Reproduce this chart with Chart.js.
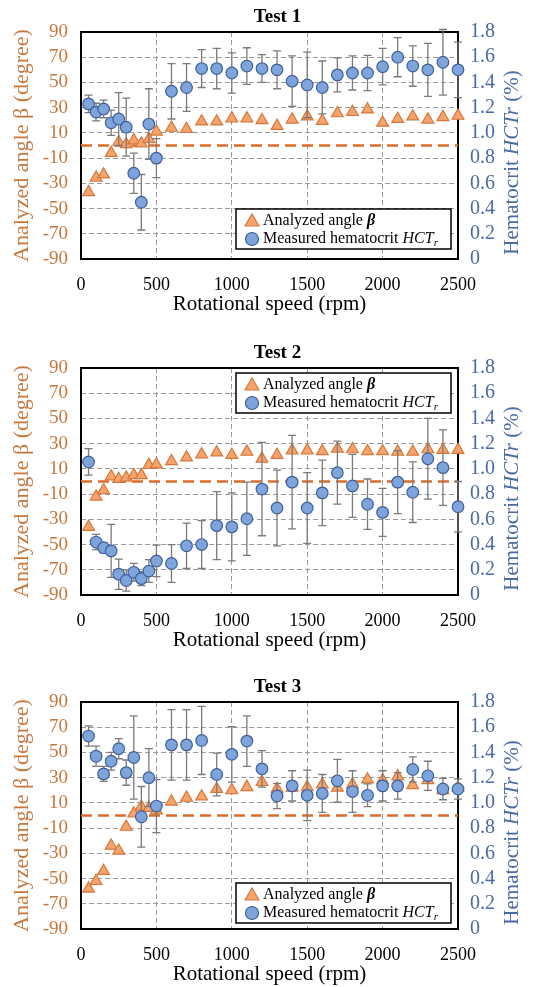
<!DOCTYPE html>
<html lang="en">
<head>
<meta charset="UTF-8">
<title>Analyzed angle and hematocrit vs rotational speed</title>
<script src="https://cdn.jsdelivr.net/npm/chart.js@4.4.1/dist/chart.umd.min.js"></script>
<style>
  html, body { margin: 0; padding: 0; background: #fff; }
  #wrap { position: relative; width: 555px; height: 987px; }
  .panel { position: absolute; left: 0; width: 555px; height: 317px; }
</style>
</head>
<body>
<div id="wrap">
  <div class="panel" style="top:0px"><canvas id="test1" width="555" height="317"></canvas></div>
  <div class="panel" style="top:336px"><canvas id="test2" width="555" height="317"></canvas></div>
  <div class="panel" style="top:670px"><canvas id="test3" width="555" height="317"></canvas></div>
</div>

<script>
// ---- data ----
const titles = ['Test 1', 'Test 2', 'Test 3'];

const speeds = [50, 100, 150, 200, 250, 300, 350, 400, 450, 500,
                600, 700, 800, 900, 1000, 1100, 1200, 1300, 1400, 1500,
                1600, 1700, 1800, 1900, 2000, 2100, 2200, 2300, 2400, 2500];

// analyzed angle beta (degree)
const angle1 = [-37, -25.5, -23, -6, 2.5, 1, 4, 1.5, 5, 11,
                14, 13, 19, 19, 21.5, 21.5, 20, 15.5, 20.5, 23,
                19.5, 25.5, 26.5, 28.5, 18, 21, 23, 20.5, 22.5, 23.5];
const angle2 = [-36, -12, -7, 4, 2, 3, 5, 5, 13, 13.5,
                16, 19, 21.5, 23, 21, 23.5, 18, 21, 24.5, 24.5,
                24, 26, 25.5, 24, 24, 23.5, 23.5, 25.5, 25, 25];
const angle3 = [-58, -52, -44, -24, -28, -9, 1.5, 7, 6, 4,
                11, 14, 15, 21, 20, 22.5, 26.5, 21, 22, 22.5,
                24.5, 22, 24.5, 28.5, 28, 31, 24, 28, 20, 22];

// measured hematocrit HCTr (%)
const hct1 = [1.23, 1.165, 1.19, 1.08, 1.11, 1.045, 0.68, 0.45, 1.07, 0.80,
              1.33, 1.36, 1.51, 1.51, 1.475, 1.53, 1.51, 1.50, 1.41, 1.38,
              1.36, 1.46, 1.475, 1.475, 1.525, 1.60, 1.53, 1.50, 1.56, 1.50];
const hct2 = [1.055, 0.42, 0.375, 0.35, 0.165, 0.115, 0.18, 0.13, 0.19, 0.27,
              0.25, 0.39, 0.40, 0.55, 0.54, 0.605, 0.84, 0.69, 0.895, 0.69,
              0.81, 0.97, 0.865, 0.72, 0.655, 0.895, 0.815, 1.08, 1.01, 0.70];
const hct3 = [1.53, 1.37, 1.23, 1.33, 1.43, 1.24, 1.36, 0.89, 1.20, 0.975,
              1.46, 1.46, 1.495, 1.225, 1.385, 1.49, 1.27, 1.055, 1.135, 1.06,
              1.075, 1.175, 1.09, 1.06, 1.135, 1.135, 1.265, 1.215, 1.11, 1.11];

// error bar half widths for HCTr
const hctErr1 = [0.07, 0.07, 0.07, 0.10, 0.21, 0.23, 0.16, 0.22, 0.28, 0.155,
                 0.22, 0.19, 0.15, 0.16, 0.16, 0.145, 0.11, 0.15, 0.20, 0.26,
                 0.21, 0.135, 0.135, 0.14, 0.145, 0.155, 0.16, 0.21, 0.26, 0.22];
const hctErr2 = [0.105, 0.06, 0.04, 0.21, 0.12, 0.085, 0.07, 0.055, 0.09, 0.125,
                 0.15, 0.18, 0.19, 0.27, 0.27, 0.29, 0.37, 0.30, 0.37, 0.28,
                 0.26, 0.25, 0.25, 0.20, 0.19, 0.25, 0.24, 0.32, 0.30, 0.20];
const hctErr3 = [0.08, 0.08, 0.06, 0.07, 0.08, 0.10, 0.33, 0.24, 0.23, 0.21,
                 0.28, 0.28, 0.27, 0.17, 0.22, 0.20, 0.145, 0.10, 0.12, 0.20,
                 0.15, 0.17, 0.165, 0.09, 0.12, 0.105, 0.10, 0.115, 0.085, 0.08];

// dashed reference line at beta = 0
const zeroX = [0, 2500];
const zeroY = [0, 0];

// tick labels
const speedTicks = [0, 500, 1000, 1500, 2000, 2500];
const angleTicks = [-90, -70, -50, -30, -10, 10, 30, 50, 70, 90];
const hctTicks = [0, 0.2, 0.4, 0.6, 0.8, 1.0, 1.2, 1.4, 1.6, 1.8];

// ---- styles ----
const SERIF = "'Liberation Serif', 'Times New Roman', serif";
const ORANGE_TXT = '#c8773c';
const BLUE_TXT = '#4a6aa5';
const TRI_FILL = '#f5a46c';
const TRI_EDGE = '#d7763a';
const DOT_FILL = '#7ea4dc';
const DOT_EDGE = '#3f5f99';
const ZERO_LINE = '#dc6e2c';
const GRID = '#9a9a9a';

function drawRuns(ctx, runs, x, y) {
    let cx = x;
    runs.forEach(r => {
        ctx.font = r.font;
        ctx.fillText(r.text, cx, y + (r.dy || 0));
        cx += ctx.measureText(r.text).width;
    });
    return cx;
}

function runsWidth(ctx, runs) {
    let w = 0;
    runs.forEach(r => { ctx.font = r.font; w += ctx.measureText(r.text).width; });
    return w;
}

function triangle(ctx, x, y, r) {
    ctx.beginPath();
    ctx.moveTo(x, y - r);
    ctx.lineTo(x + r * 0.866, y + r * 0.5);
    ctx.lineTo(x - r * 0.866, y + r * 0.5);
    ctx.closePath();
}

// frame, error bars, legend and right axis title
const decor = {
    id: 'decor',
    beforeDatasetsDraw(chart) {
        const a = chart.chartArea, ctx = chart.ctx;
        ctx.save();
        ctx.strokeStyle = '#000';
        ctx.lineWidth = 2;
        ctx.strokeRect(a.left, a.top, a.right - a.left, a.bottom - a.top);
        ctx.restore();
    },
    beforeDatasetDraw(chart, args) {
        if (args.index !== 0) return;
        const ds = chart.data.datasets[0];
        const xs = chart.scales.x, ys = chart.scales.yR, ctx = chart.ctx;
        ctx.save();
        ctx.strokeStyle = '#7a7a7a';
        ctx.lineWidth = 1.3;
        ds.data.forEach((p, i) => {
            const e = ds.errors[i];
            const x = xs.getPixelForValue(p.x);
            const y1 = ys.getPixelForValue(p.y + e);
            const y2 = ys.getPixelForValue(p.y - e);
            ctx.beginPath();
            ctx.moveTo(x, y1); ctx.lineTo(x, y2);
            ctx.moveTo(x - 4, y1); ctx.lineTo(x + 4, y1);
            ctx.moveTo(x - 4, y2); ctx.lineTo(x + 4, y2);
            ctx.stroke();
        });
        ctx.restore();
    },
    afterDatasetsDraw(chart, args, opts) {
        const a = chart.chartArea, ctx = chart.ctx;
        ctx.save();

        // legend box
        const w = 215, h = 40;
        const bx = a.right - 7 - w;
        const by = opts.legendAt === 'top' ? a.top + opts.gap : a.bottom - opts.gap - h;
        ctx.fillStyle = '#fff';
        ctx.fillRect(bx, by, w, h);
        ctx.strokeStyle = '#000';
        ctx.lineWidth = 1.5;
        ctx.strokeRect(bx, by, w, h);

        const r1 = by + 12, r2 = by + 30;
        ctx.lineWidth = 1.2;
        triangle(ctx, bx + 16, r1 + 1, 8);
        ctx.fillStyle = TRI_FILL; ctx.strokeStyle = TRI_EDGE;
        ctx.fill(); ctx.stroke();
        ctx.beginPath();
        ctx.arc(bx + 16, r2, 6.5, 0, Math.PI * 2);
        ctx.fillStyle = DOT_FILL; ctx.strokeStyle = DOT_EDGE;
        ctx.fill(); ctx.stroke();

        ctx.fillStyle = '#000';
        ctx.textBaseline = 'middle';
        ctx.textAlign = 'left';
        drawRuns(ctx, [
            {text: 'Analyzed angle ', font: '16px ' + SERIF},
            {text: 'β', font: 'italic bold 16px ' + SERIF}
        ], bx + 27, r1);
        drawRuns(ctx, [
            {text: 'Measured hematocrit ', font: '16px ' + SERIF},
            {text: 'HCT', font: 'italic 16px ' + SERIF},
            {text: 'r', font: 'italic 11px ' + SERIF, dy: 4}
        ], bx + 27, r2);

        // right axis title
        const runs = [
            {text: 'Hematocrit ', font: '21px ' + SERIF},
            {text: 'HCTr', font: 'italic 21px ' + SERIF},
            {text: ' (%)', font: '21px ' + SERIF}
        ];
        const tw = runsWidth(ctx, runs);
        ctx.translate(a.right + 54, (a.top + a.bottom) / 2 + 17);
        ctx.rotate(-Math.PI / 2);
        ctx.fillStyle = BLUE_TXT;
        drawRuns(ctx, runs, -tw / 2, 0);
        ctx.restore();
    }
};

function makeChart(id, title, angle, hct, err, legendAt, gap) {
    const ctx = document.getElementById(id).getContext('2d');
    return new Chart(ctx, {
        type: 'scatter',
        data: {
            datasets: [
                {
                    label: 'Measured hematocrit HCTr',
                    data: speeds.map((s, i) => ({x: s, y: hct[i]})),
                    errors: err,
                    yAxisID: 'yR',
                    pointStyle: 'circle',
                    pointRadius: 5.8,
                    backgroundColor: DOT_FILL,
                    borderColor: DOT_EDGE,
                    borderWidth: 1.2,
                    clip: false
                },
                {
                    label: 'Analyzed angle β',
                    data: speeds.map((s, i) => ({x: s, y: angle[i]})),
                    yAxisID: 'yA',
                    pointStyle: 'triangle',
                    pointRadius: 6.8,
                    backgroundColor: TRI_FILL,
                    borderColor: TRI_EDGE,
                    borderWidth: 1.2,
                    clip: false
                },
                {
                    type: 'line',
                    label: 'zero',
                    data: zeroX.map((x, i) => ({x: x, y: zeroY[i]})),
                    yAxisID: 'yA',
                    borderColor: ZERO_LINE,
                    borderWidth: 2.5,
                    borderDash: [11, 6],
                    pointRadius: 0,
                    showLine: true,
                    fill: false
                }
            ]
        },
        options: {
            responsive: false,
            animation: false,
            events: [],
            layout: {padding: 0},
            plugins: {
                legend: {display: false},
                tooltip: {enabled: false},
                title: {
                    display: true,
                    text: title,
                    color: '#000',
                    font: {family: SERIF, size: 19, weight: 'bold'},
                    padding: {top: 6, bottom: 3.2}
                },
                decor: {legendAt: legendAt, gap: gap}
            },
            scales: {
                x: {
                    type: 'linear',
                    min: 0, max: 2500,
                    afterFit: s => { s.height = 58; },
                    afterBuildTicks: s => { s.ticks = speedTicks.map(v => ({value: v})); },
                    border: {display: false, dash: [5, 3]},
                    grid: {color: GRID, lineWidth: 1, drawTicks: false},
                    ticks: {
                        color: '#000', padding: 15, maxRotation: 0, autoSkip: false,
                        font: {family: SERIF, size: 18},
                        callback: v => String(v)
                    },
                    title: {display: true, text: 'Rotational speed (rpm)', color: '#000',
                            font: {family: SERIF, size: 21}, padding: {top: 0, bottom: 0}}
                },
                yA: {
                    type: 'linear',
                    position: 'left',
                    min: -90, max: 90,
                    afterFit: s => { s.width = 81; },
                    afterBuildTicks: s => { s.ticks = angleTicks.map(v => ({value: v})); },
                    border: {display: false, dash: [5, 3]},
                    grid: {color: GRID, lineWidth: 1, drawTicks: false},
                    ticks: {
                        color: ORANGE_TXT, padding: 13, autoSkip: false,
                        font: {family: SERIF, size: 19},
                        callback: v => String(v)
                    },
                    title: {display: true, text: 'Analyzed angle β (degree)', color: ORANGE_TXT,
                            font: {family: SERIF, size: 22}, padding: {top: 9.5, bottom: 0}}
                },
                yR: {
                    type: 'linear',
                    position: 'right',
                    min: 0, max: 1.8,
                    afterFit: s => { s.width = 97; },
                    afterBuildTicks: s => { s.ticks = hctTicks.map(v => ({value: v})); },
                    border: {display: false},
                    grid: {display: false, drawTicks: false},
                    ticks: {
                        color: BLUE_TXT, padding: 12, autoSkip: false,
                        font: {family: SERIF, size: 20},
                        callback: v => v === 0 ? '0' : v.toFixed(1)
                    }
                }
            }
        },
        plugins: [decor]
    });
}

makeChart('test1', titles[0], angle1, hct1, hctErr1, 'bottom', 10);
makeChart('test2', titles[1], angle2, hct2, hctErr2, 'top', 5);
makeChart('test3', titles[2], angle3, hct3, hctErr3, 'bottom', 6);
</script>
</body>
</html>
